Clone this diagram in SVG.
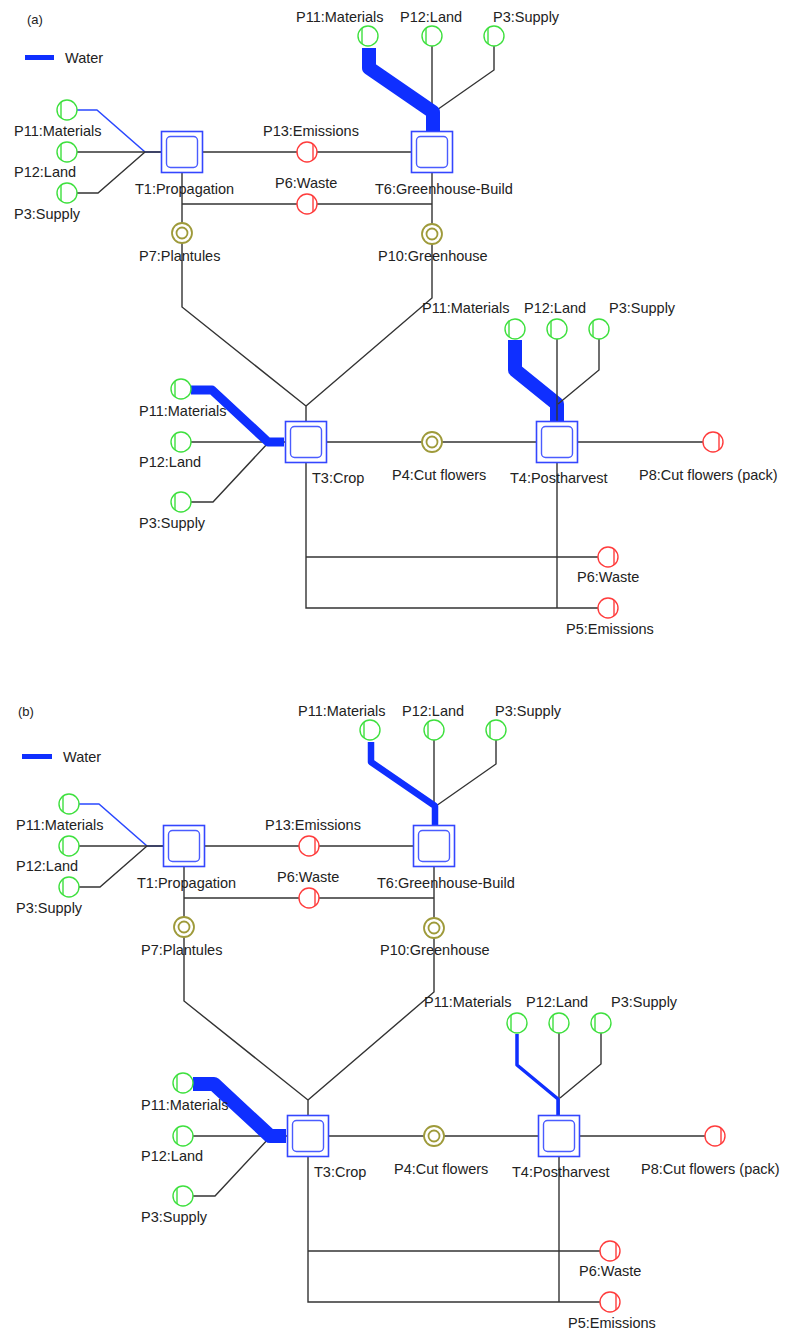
<svg xmlns="http://www.w3.org/2000/svg" width="787" height="1331" viewBox="0 0 787 1331">
<style>
text{font-family:"Liberation Sans",Arial,sans-serif;font-size:14.5px;fill:#222}
.pl{font-size:13px}
.ln{fill:none;stroke:#333;stroke-width:1.4}
.w{fill:none;stroke:#0f2fff;stroke-linejoin:round;stroke-linecap:butt}
.bo{fill:#fff;stroke:#3446ff;stroke-width:1.6}
.bi{fill:none;stroke:#4a5cff;stroke-width:1.4}
.g{fill:#fff;stroke:#3ee03e;stroke-width:1.4}
.r{fill:#fff;stroke:#ff3c3c;stroke-width:1.4}
.o{fill:#fff;stroke:#9e9a3a;stroke-width:1.8}
</style>
<defs>
<g id="box"><rect class="bo" x="-20.5" y="-20.5" width="41" height="41"/><rect class="bi" x="-15.5" y="-15.5" width="31" height="31" rx="4"/></g>
<g id="gc"><circle class="g" r="10"/><line class="g" x1="-6" y1="-8" x2="-6" y2="8"/></g>
<g id="rc"><circle class="r" r="10"/><line class="r" x1="6" y1="-8" x2="6" y2="8"/></g>
<g id="oc"><circle class="o" r="10"/><circle class="o" r="5.5"/></g>
</defs>

<text class="pl" x="27" y="24">(a)</text>
<g id="a-legend"><line x1="25" y1="57.5" x2="54" y2="57.5" stroke="#0f2fff" stroke-width="5"/><text x="65" y="62.5">Water</text></g>

<g id="a-connectors">
<path class="w" stroke-width="1.6" d="M77,110 H97 L145,152 H161" style="stroke:#2a48ff"/>
<path class="ln" d="M77,152 H161"/>
<path class="ln" d="M77,193 H98 L145,152"/>
<path class="ln" d="M202,152 H411"/>
<path class="ln" d="M182,173 V307 L306,406 V421"/>
<path class="ln" d="M182,204 H432"/>
<path class="ln" d="M432,173 V298 L306,406"/>
<path class="ln" d="M432,46 V131"/>
<path class="ln" d="M494,46 V70 L434,112"/>
<path class="w" stroke-width="14" d="M369,48 V68 L433,112 V131"/>
<path class="w" stroke-width="14" d="M515,340 V370 L557,404 V421"/>
<path class="ln" d="M557,339 V421"/>
<path class="ln" d="M599,339 V370 L558,404"/>
<path class="ln" d="M191,442 H285"/>
<path class="ln" d="M191,502 H213 L268,443"/>
<path class="w" stroke-width="9" d="M191,390 H212 L268,442 H284"/>
<path class="ln" d="M327,442 H536"/>
<path class="ln" d="M577,442 H703"/>
<path class="ln" d="M306,463 V608 H598"/>
<path class="ln" d="M306,557 H598"/>
<path class="ln" d="M557,463 V608"/>
</g>

<g id="a-T1"><use href="#box" x="182" y="152"/><text x="135" y="193.5">T1:Propagation</text></g>
<g id="a-T6"><use href="#box" x="432" y="152"/><text x="375" y="193.5">T6:Greenhouse-Build</text></g>
<g id="a-T3"><use href="#box" x="306" y="442"/><text x="312" y="483">T3:Crop</text></g>
<g id="a-T4"><use href="#box" x="557" y="442"/><text x="510" y="483">T4:Postharvest</text></g>

<g id="a-P11-T1"><use href="#gc" x="67" y="110"/><text x="14" y="135.5">P11:Materials</text></g>
<g id="a-P12-T1"><use href="#gc" x="67" y="152"/><text x="14" y="176.5">P12:Land</text></g>
<g id="a-P3-T1"><use href="#gc" x="67" y="193"/><text x="14" y="218.5">P3:Supply</text></g>
<g id="a-P11-T6"><use href="#gc" x="368" y="36"/><text x="296" y="21.5">P11:Materials</text></g>
<g id="a-P12-T6"><use href="#gc" x="432" y="36"/><text x="400" y="21.5">P12:Land</text></g>
<g id="a-P3-T6"><use href="#gc" x="494" y="36"/><text x="493" y="21.5">P3:Supply</text></g>
<g id="a-P13"><use href="#rc" x="307" y="152"/><text x="263" y="135.5">P13:Emissions</text></g>
<g id="a-P6-top"><use href="#rc" x="307" y="204"/><text x="275" y="188">P6:Waste</text></g>
<g id="a-P7"><use href="#oc" x="182" y="233"/><text x="139" y="261">P7:Plantules</text></g>
<g id="a-P10"><use href="#oc" x="432" y="234"/><text x="378" y="261">P10:Greenhouse</text></g>
<g id="a-P11-T4"><use href="#gc" x="515" y="329"/><text x="422" y="312.5">P11:Materials</text></g>
<g id="a-P12-T4"><use href="#gc" x="557" y="329"/><text x="524" y="312.5">P12:Land</text></g>
<g id="a-P3-T4"><use href="#gc" x="599" y="329"/><text x="609" y="312.5">P3:Supply</text></g>
<g id="a-P11-T3"><use href="#gc" x="181" y="389"/><text x="139" y="416">P11:Materials</text></g>
<g id="a-P12-T3"><use href="#gc" x="181" y="442"/><text x="139" y="467">P12:Land</text></g>
<g id="a-P3-T3"><use href="#gc" x="181" y="502"/><text x="139" y="528">P3:Supply</text></g>
<g id="a-P4"><use href="#oc" x="432" y="442"/><text x="392" y="480">P4:Cut flowers</text></g>
<g id="a-P8"><use href="#rc" x="713" y="442"/><text x="639" y="480">P8:Cut flowers (pack)</text></g>
<g id="a-P6"><use href="#rc" x="608" y="557"/><text x="577" y="581.5">P6:Waste</text></g>
<g id="a-P5"><use href="#rc" x="608" y="608"/><text x="566" y="633.5">P5:Emissions</text></g>

<text class="pl" x="18" y="716">(b)</text>
<g id="b-legend"><line x1="22" y1="756.5" x2="52" y2="756.5" stroke="#0f2fff" stroke-width="5"/><text x="63" y="761.5">Water</text></g>

<g transform="translate(2,694)">
<g id="b-connectors">
<path class="w" stroke-width="1.6" d="M77,110 H97 L145,152 H161" style="stroke:#2a48ff"/>
<path class="ln" d="M77,152 H161"/>
<path class="ln" d="M77,193 H98 L145,152"/>
<path class="ln" d="M202,152 H411"/>
<path class="ln" d="M182,173 V307 L306,406 V421"/>
<path class="ln" d="M182,204 H432"/>
<path class="ln" d="M432,173 V298 L306,406"/>
<path class="ln" d="M432,46 V131"/>
<path class="ln" d="M494,46 V70 L434,112"/>
<path class="w" stroke-width="6.5" d="M369,48 V68 L433,112 V131"/>
<path class="ln" d="M557,339 V421"/>
<path class="ln" d="M599,339 V370 L558,404"/>
<path class="w" stroke-width="3.5" d="M515,340 V371 L556,405 V421"/>
<path class="ln" d="M191,442 H285"/>
<path class="ln" d="M191,502 H213 L268,443"/>
<path class="w" stroke-width="14" d="M191,390 H212 L268,442 H284"/>
<path class="ln" d="M327,442 H536"/>
<path class="ln" d="M577,442 H703"/>
<path class="ln" d="M306,463 V608 H598"/>
<path class="ln" d="M306,557 H598"/>
<path class="ln" d="M557,463 V608"/>
</g>

<g id="b-T1"><use href="#box" x="182" y="152"/><text x="135" y="193.5">T1:Propagation</text></g>
<g id="b-T6"><use href="#box" x="432" y="152"/><text x="375" y="193.5">T6:Greenhouse-Build</text></g>
<g id="b-T3"><use href="#box" x="306" y="442"/><text x="312" y="483">T3:Crop</text></g>
<g id="b-T4"><use href="#box" x="557" y="442"/><text x="510" y="483">T4:Postharvest</text></g>

<g id="b-P11-T1"><use href="#gc" x="67" y="110"/><text x="14" y="135.5">P11:Materials</text></g>
<g id="b-P12-T1"><use href="#gc" x="67" y="152"/><text x="14" y="176.5">P12:Land</text></g>
<g id="b-P3-T1"><use href="#gc" x="67" y="193"/><text x="14" y="218.5">P3:Supply</text></g>
<g id="b-P11-T6"><use href="#gc" x="368" y="36"/><text x="296" y="21.5">P11:Materials</text></g>
<g id="b-P12-T6"><use href="#gc" x="432" y="36"/><text x="400" y="21.5">P12:Land</text></g>
<g id="b-P3-T6"><use href="#gc" x="494" y="36"/><text x="493" y="21.5">P3:Supply</text></g>
<g id="b-P13"><use href="#rc" x="307" y="152"/><text x="263" y="135.5">P13:Emissions</text></g>
<g id="b-P6-top"><use href="#rc" x="307" y="204"/><text x="275" y="188">P6:Waste</text></g>
<g id="b-P7"><use href="#oc" x="182" y="233"/><text x="139" y="261">P7:Plantules</text></g>
<g id="b-P10"><use href="#oc" x="432" y="234"/><text x="378" y="261">P10:Greenhouse</text></g>
<g id="b-P11-T4"><use href="#gc" x="515" y="329"/><text x="422" y="312.5">P11:Materials</text></g>
<g id="b-P12-T4"><use href="#gc" x="557" y="329"/><text x="524" y="312.5">P12:Land</text></g>
<g id="b-P3-T4"><use href="#gc" x="599" y="329"/><text x="609" y="312.5">P3:Supply</text></g>
<g id="b-P11-T3"><use href="#gc" x="181" y="389"/><text x="139" y="416">P11:Materials</text></g>
<g id="b-P12-T3"><use href="#gc" x="181" y="442"/><text x="139" y="467">P12:Land</text></g>
<g id="b-P3-T3"><use href="#gc" x="181" y="502"/><text x="139" y="528">P3:Supply</text></g>
<g id="b-P4"><use href="#oc" x="432" y="442"/><text x="392" y="480">P4:Cut flowers</text></g>
<g id="b-P8"><use href="#rc" x="713" y="442"/><text x="639" y="480">P8:Cut flowers (pack)</text></g>
<g id="b-P6"><use href="#rc" x="608" y="557"/><text x="577" y="581.5">P6:Waste</text></g>
<g id="b-P5"><use href="#rc" x="608" y="608"/><text x="566" y="633.5">P5:Emissions</text></g>
</g>
</svg>
